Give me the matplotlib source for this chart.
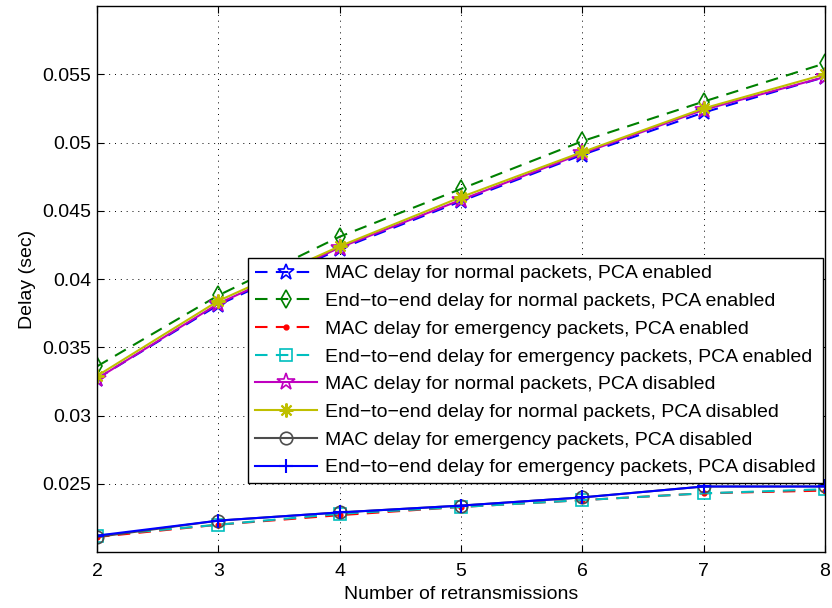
import matplotlib.pyplot as plt

plt.rcParams['font.family'] = ['Liberation Sans', 'DejaVu Sans']
plt.rcParams['axes.unicode_minus'] = True

# Number of retransmissions
retx = [2, 3, 4, 5, 6, 7, 8]

# Delays (sec), PCA enabled
mac_normal_en = [0.0327, 0.0381, 0.0422, 0.0457, 0.0491, 0.0522, 0.0548]
e2e_normal_en = [0.0336, 0.0388, 0.0431, 0.0466, 0.0501, 0.0530, 0.0558]
mac_emerg_en = [0.0211, 0.0220, 0.0227, 0.0233, 0.0238, 0.0243, 0.0245]
e2e_emerg_en = [0.0212, 0.0220, 0.0228, 0.0233, 0.0238, 0.0243, 0.0246]

# Delays (sec), PCA disabled
mac_normal_dis = [0.0327, 0.0382, 0.0423, 0.0458, 0.0492, 0.0524, 0.0548]
e2e_normal_dis = [0.0329, 0.0384, 0.0424, 0.0460, 0.0493, 0.0525, 0.0550]
mac_emerg_dis = [0.0211, 0.0223, 0.0229, 0.0234, 0.0240, 0.0248, 0.0248]
e2e_emerg_dis = [0.0212, 0.0223, 0.0229, 0.0234, 0.0240, 0.0248, 0.0248]

labels = [
    'MAC delay for normal packets, PCA enabled',
    'End\u2212to\u2212end delay for normal packets, PCA enabled',
    'MAC delay for emergency packets, PCA enabled',
    'End\u2212to\u2212end delay for emergency packets, PCA enabled',
    'MAC delay for normal packets, PCA disabled',
    'End\u2212to\u2212end delay for normal packets, PCA disabled',
    'MAC delay for emergency packets, PCA disabled',
    'End\u2212to\u2212end delay for emergency packets, PCA disabled',
]

fig = plt.figure(figsize=(8.32, 6.08), dpi=100)
ax = fig.add_axes([0.1166, 0.0921, 0.875, 0.898])

dash = (0, (6, 4))
lw = 1.5
ax.plot(retx, mac_normal_en, linestyle=dash, color='b', lw=lw, marker='*', ms=12,
        mfc='none', mew=1.2, label=labels[0])
ax.plot(retx, e2e_normal_en, linestyle=dash, color=(0, 0.5, 0), lw=lw, marker='d', ms=9,
        mfc='none', mew=1.2, label=labels[1])
ax.plot(retx, mac_emerg_en, linestyle=dash, color='r', lw=lw, marker='.', ms=7,
        label=labels[2])
ax.plot(retx, e2e_emerg_en, linestyle=dash, color=(0, 0.75, 0.75), lw=lw, marker='s', ms=8,
        mfc='none', mew=1.2, label=labels[3])
ax.plot(retx, mac_normal_dis, '-', color=(0.75, 0, 0.75), lw=lw, marker='*', ms=13,
        mfc='none', mew=1.2, label=labels[4])
ax.plot(retx, e2e_normal_dis, '-', color=(0.75, 0.75, 0), lw=lw, marker=(8, 2, 0), ms=10,
        mew=1.5, label=labels[5])
ax.plot(retx, mac_emerg_dis, '-', color=(0.3, 0.3, 0.3), lw=lw, marker='o', ms=9,
        mfc='none', mew=1.2, label=labels[6])
ax.plot(retx, e2e_emerg_dis, '-', color='b', lw=lw, marker='+', ms=10,
        mew=1.5, label=labels[7])

ax.set_xlim(2, 8)
ax.set_ylim(0.02, 0.06)
ax.set_xticks(retx)
ax.set_yticks([0.025, 0.03, 0.035, 0.04, 0.045, 0.05, 0.055])
ax.set_yticklabels(['0.025', '0.03', '0.035', '0.04', '0.045', '0.05', '0.055'])
ax.tick_params(direction='in', length=5, top=True, right=True, labelsize=14)
ax.tick_params(axis='x', pad=8)
ax.tick_params(axis='y', pad=4)
ax.grid(True, linestyle=(0, (1, 5)), color='black', lw=0.7)
for s in ax.spines.values():
    s.set_linewidth(1.0)

ax.set_xlabel('Number of retransmissions', fontsize=14, labelpad=4)
ax.set_ylabel('Delay (sec)', fontsize=14, labelpad=5)

leg = ax.legend(loc='lower right', bbox_to_anchor=(0.997, 0.126), fontsize=14,
                handlelength=3.2, handletextpad=0.4, borderpad=0.35, labelspacing=0.52,
                fancybox=False, framealpha=1, edgecolor='black', borderaxespad=0)
leg.get_frame().set_linewidth(1.0)

fig.savefig('out.png', dpi=100)
